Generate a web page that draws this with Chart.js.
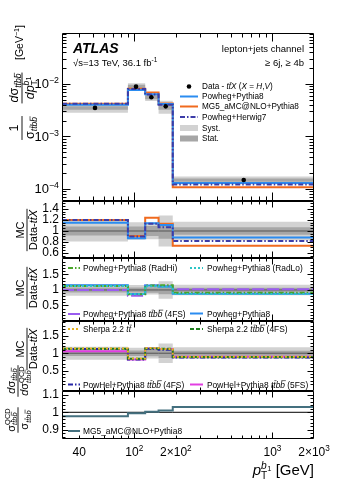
<!DOCTYPE html>
<html>
<head>
<meta charset="utf-8">
<script src="https://cdn.jsdelivr.net/npm/chart.js@4.4.1/dist/chart.umd.min.js"></script>
<style>
  html, body { margin: 0; padding: 0; background: #fff; }
  #wrap { position: relative; width: 346px; height: 480px; overflow: hidden; background: #fff; }
  #wrap canvas { position: absolute; left: 0; top: 0; }
</style>
</head>
<body>
<div id="wrap"></div>
<script>
// --- values ---
const binEdges = [30, 90, 120, 150, 190, 2000];
const dataX = [52, 103, 133, 169, 620];
const dataVal = [3.5e-3, 8.9e-3, 5.6e-3, 3.75e-3, 1.48e-4];
const systRel = [0.19, 0.16, 0.15, 0.28, 0.17];
const statRel = [0.08, 0.08, 0.09, 0.14, 0.07];

// top panel, normalised cross-sections
const powPy8 = [4.0e-3, 7.7e-3, 6.4e-3, 4.15e-3, 1.30e-4];
const mg5Py8 = [4.2e-3, 8.1e-3, 6.9e-3, 4.25e-3, 1.08e-4];
const powH7 = [4.2e-3, 8.0e-3, 6.3e-3, 4.0e-3, 1.21e-4];

// ratio panel 1
const rPowPy8 = [1.15, 0.87, 1.14, 1.11, 0.88];
const rMg5 = [1.20, 0.91, 1.24, 1.13, 0.73];
const rPowH7 = [1.20, 0.90, 1.13, 1.07, 0.82];
// ratio panel 2
const rRadHi = [1.13, 0.86, 1.14, 1.15, 0.91];
const rRadLo = [1.13, 0.87, 1.12, 1.10, 0.87];
const rPowTtbb4 = [1.00, 0.81, 1.14, 1.12, 1.02];
// ratio panel 3
const rSherpaTt = [1.14, 0.85, 1.15, 1.12, 0.90];
const rSherpaTtbb = [1.13, 0.84, 1.14, 1.13, 0.89];
const rPowHel4 = [1.12, 0.82, 1.13, 1.10, 0.88];
const rPowHel5 = [1.06, 0.82, 1.14, 1.12, 0.90];
// bottom panel, QCD-only over full
const rQcd = [0.978, 0.995, 1.003, 1.01, 1.03];
const unity = [1, 1, 1, 1, 1];

// --- axis ticks ---
const xTickVals = [40, 100, 200, 1000, 2000];
const xTickLabels = [[['40', '']], [['10', ''], ['2', '^']], [['2×10', ''], ['2', '^']],
  [['10', ''], ['3', '^']], [['2×10', ''], ['3', '^']]];
const xMajorTicks = [100, 1000];
const xMinorTicks = [40, 50, 60, 70, 80, 90, 200, 300, 400, 500, 600, 700, 800, 900];
const topTickVals = [1e-4, 1e-3, 1e-2];
const topTickLabels = [[['10', ''], ['−4', '^']], [['10', ''], ['−3', '^']], [['10', ''], ['−2', '^']]];

const FONT = "'Liberation Sans', Arial, Helvetica, sans-serif";
Chart.defaults.font.family = FONT;
Chart.defaults.color = '#000';

const wrap = document.getElementById('wrap');

function steps(a, b, s) {
  const r = [];
  for (let v = a; v <= b + 1e-9; v += s) r.push(+v.toFixed(4));
  return r;
}
function logMinors(d0, d1) {
  const r = [];
  for (let d = d0; d <= d1; d++) for (let k = 2; k <= 9; k++) r.push(k * Math.pow(10, d));
  return r;
}

// --- rich text helpers (flags: i italic, b bold, ^ sup, _ sub, s sub-of-sup, k stack, o overline) ---
function partFont(f, size) {
  let s = size;
  if (f.includes('^') || f.includes('_')) s = size * 0.68;
  if (f.includes('s')) s = size * 0.5;
  return { font: (f.includes('i') ? 'italic ' : '') + (f.includes('b') ? 'bold ' : '') + s.toFixed(1) + 'px ' + FONT, s };
}
function partDy(f, size) {
  if (f.includes('^')) return -size * 0.42;
  if (f.includes('_')) return size * 0.25;
  if (f.includes('s')) return -size * 0.27;
  return 0;
}
function layoutParts(ctx, parts, size) {
  let x = 0, kx = null, kw = 0;
  const items = [];
  for (const [t, f] of parts) {
    const pf = partFont(f, size);
    ctx.font = pf.font;
    const w = ctx.measureText(t).width;
    items.push({ t, f, x, w, font: pf.font, s: pf.s, dy: partDy(f, size) });
    if (f.includes('k')) { kx = x; kw = w; }
    else if (kx !== null) { x = kx + Math.max(kw, w); kx = null; }
    else x += w;
  }
  if (kx !== null) x = kx + kw;
  return { items, width: x };
}
function drawParts(ctx, parts, x, y, size, align) {
  const L = layoutParts(ctx, parts, size);
  const x0 = align === 'right' ? x - L.width : align === 'center' ? x - L.width / 2 : x;
  ctx.textAlign = 'left';
  ctx.textBaseline = 'alphabetic';
  for (const it of L.items) {
    ctx.font = it.font;
    ctx.fillText(it.t, x0 + it.x, y + it.dy);
    if (it.f.includes('o')) {
      ctx.lineWidth = Math.max(0.6, it.s * 0.07);
      for (let j = 1; j < it.t.length; j += 2) {
        const a = ctx.measureText(it.t.slice(0, j)).width;
        const b = ctx.measureText(it.t.slice(0, j + 1)).width;
        const yy = y + it.dy - it.s * 0.82;
        ctx.beginPath();
        ctx.moveTo(x0 + it.x + a + it.s * 0.12, yy);
        ctx.lineTo(x0 + it.x + b + it.s * 0.1, yy);
        ctx.stroke();
      }
    }
  }
  return L.width;
}
function frac(ctx, num, den, u, size) {
  const w = Math.max(layoutParts(ctx, num, size).width, layoutParts(ctx, den, size).width) + 2;
  drawParts(ctx, num, u, -size * 0.3, size, 'center');
  drawParts(ctx, den, u, size * 0.95, size, 'center');
  ctx.lineWidth = 0.9;
  ctx.beginPath();
  ctx.moveTo(u - w / 2, 0);
  ctx.lineTo(u + w / 2, 0);
  ctx.stroke();
}
function vtext(ctx, x, y, fn) {
  ctx.save();
  ctx.translate(x, y);
  ctx.rotate(-Math.PI / 2);
  ctx.fillStyle = '#000';
  ctx.strokeStyle = '#000';
  fn();
  ctx.restore();
}

const TT = f => ['tt', 'io' + f];
const TTBB = f => ['ttbb', 'io' + f];

function legendSym(ctx, it, x0, x1, y) {
  ctx.save();
  if (it.kind === 'dot') {
    ctx.fillStyle = '#000';
    ctx.beginPath(); ctx.arc((x0 + x1) / 2, y, 2.3, 0, Math.PI * 2); ctx.fill();
  } else if (it.kind === 'box') {
    ctx.fillStyle = it.color;
    ctx.fillRect(x0, y - 3, x1 - x0, 6);
  } else {
    ctx.strokeStyle = it.color;
    ctx.lineWidth = it.width || 2;
    ctx.setLineDash(it.dash || []);
    ctx.beginPath(); ctx.moveTo(x0, y); ctx.lineTo(x1, y); ctx.stroke();
  }
  ctx.restore();
}
function legendRow(ctx, it, x0, x1, tx, y, size) {
  legendSym(ctx, it, x0, x1, y);
  ctx.fillStyle = '#000';
  ctx.strokeStyle = '#000';
  drawParts(ctx, it.label, tx, y + size * 0.36, size, 'left');
}

// --- styles ---
const C = {
  blue: '#2b8cf0', orange: '#f06a1e', h7: '#3c3ca8',
  radHi: '#4aa52a', radLo: '#2cc5c5', ttbb4: '#9a5cf0',
  shTt: '#e6b422', shTtbb: '#1f7f1f', ph4: '#2626a6', ph5: '#e23ee2',
  qcd: '#44707f', syst: '#d2d2d2', stat: '#a6a6a6'
};
const DASHDOT = [5, 2, 1.5, 2];

// --- dataset builders ---
function histPts(vals) {
  const pts = vals.map((v, i) => ({ x: binEdges[i], y: v }));
  pts.push({ x: binEdges[binEdges.length - 1], y: vals[vals.length - 1] });
  return pts;
}
function histLine(vals, color, dash, order, width) {
  return { data: histPts(vals), borderColor: color, borderDash: dash || [], borderWidth: width || 2,
    stepped: true, pointRadius: 0, fill: false, order };
}
function band(center, rel, color, order) {
  const hi = center.map((c, i) => c * (1 + rel[i]));
  const lo = center.map((c, i) => c * (1 - rel[i]));
  return [
    { data: histPts(hi), borderWidth: 0, borderColor: 'rgba(0,0,0,0)', stepped: true, pointRadius: 0, fill: false, order },
    { data: histPts(lo), borderWidth: 0, borderColor: 'rgba(0,0,0,0)', stepped: true, pointRadius: 0, fill: '-1', backgroundColor: color, order }
  ];
}
function unityLine(color) {
  return { data: histPts(unity), borderColor: color, borderWidth: 1, stepped: true, pointRadius: 0, fill: false, order: 15 };
}

function deco(cfg) {
  return {
    id: 'deco',
    afterDraw(chart) {
      const ctx = chart.ctx, a = chart.chartArea, xs = chart.scales.x, ys = chart.scales.y;
      ctx.save();
      ctx.strokeStyle = '#000';
      ctx.lineWidth = 1;
      const L = Math.round(a.left) + 0.5, R = Math.round(a.right) - 0.5;
      const T = Math.round(a.top) + 0.5, B = Math.round(a.bottom) - 0.5;
      ctx.beginPath();
      ctx.rect(L, T, R - L, B - T);
      const xt = (v, len) => {
        const px = Math.round(xs.getPixelForValue(v)) + 0.5;
        ctx.moveTo(px, B); ctx.lineTo(px, B - len);
        ctx.moveTo(px, T); ctx.lineTo(px, T + len);
      };
      const yt = (v, len) => {
        if (v <= ys.min || v >= ys.max) return;
        const py = Math.round(ys.getPixelForValue(v)) + 0.5;
        ctx.moveTo(L, py); ctx.lineTo(L + len, py);
        ctx.moveTo(R, py); ctx.lineTo(R - len, py);
      };
      xMajorTicks.forEach(v => xt(v, cfg.tk[0]));
      xMinorTicks.forEach(v => xt(v, cfg.tk[1]));
      cfg.yTicks.forEach(v => yt(v, cfg.tk[2]));
      cfg.yMinor.forEach(v => yt(v, cfg.tk[3]));
      ctx.stroke();
      ctx.fillStyle = '#000';
      if (cfg.yRich) {
        cfg.yTicks.forEach((v, i) => drawParts(ctx, cfg.yRich[i], a.left - 3, ys.getPixelForValue(v) + 4.5, 13, 'right'));
      }
      if (cfg.last) {
        xTickVals.forEach((v, i) => drawParts(ctx, xTickLabels[i], xs.getPixelForValue(v), 456, 12, 'center'));
      }
      if (cfg.draw) cfg.draw(ctx, chart);
      ctx.restore();
    }
  };
}

function makePanel(cfg) {
  const cv = document.createElement('canvas');
  cv.width = 346; cv.height = 480;
  cv.style.width = '346px'; cv.style.height = '480px';
  wrap.appendChild(cv);
  const last = !!cfg.last;
  const xAxisH = last ? 480 - cfg.bottom : 0;
  return new Chart(cv, {
    type: 'line',
    data: { datasets: cfg.datasets },
    options: {
      responsive: false,
      animation: false,
      events: [],
      layout: { padding: { left: 0, right: 32, top: cfg.top, bottom: last ? 0 : 480 - cfg.bottom } },
      plugins: { legend: { display: false }, tooltip: { enabled: false } },
      scales: {
        x: {
          type: 'logarithmic', min: 30, max: 2000, display: last,
          grid: { display: false, drawTicks: false }, border: { display: false },
          ticks: { display: false },
          afterBuildTicks: s => { s.ticks = xTickVals.map(v => ({ value: v })); },
          afterFit: s => { s.height = xAxisH; }
        },
        y: {
          type: cfg.yType, min: cfg.yMin, max: cfg.yMax,
          grid: { display: false, drawTicks: false }, border: { display: false },
          ticks: { display: !cfg.yRich, autoSkip: false, padding: 3, color: '#000', font: { size: 12 },
            callback: (v, i) => cfg.yLabels ? cfg.yLabels[i] : '' },
          afterBuildTicks: s => { s.ticks = cfg.yTicks.map(v => ({ value: v })); },
          afterFit: s => { s.width = 62; }
        }
      }
    },
    plugins: [deco(cfg)]
  });
}

// ---------- panel 1: distribution ----------
makePanel({
  top: 33, bottom: 201, yType: 'logarithmic', yMin: 5.9e-5, yMax: 0.0935,
  yTicks: topTickVals, yRich: topTickLabels,
  yMinor: logMinors(-5, -2), tk: [8, 4, 8, 4],
  datasets: [
    ...band(dataVal, systRel, C.syst, 20),
    ...band(dataVal, statRel, C.stat, 19),
    histLine(mg5Py8, C.orange, [], 5),
    histLine(powPy8, C.blue, [], 4),
    histLine(powH7, C.h7, DASHDOT, 3),
    { data: dataX.map((x, i) => ({ x, y: dataVal[i] })), showLine: false, pointRadius: 2.3,
      pointBackgroundColor: '#000', pointBorderWidth: 0, order: 0 }
  ],
  draw(ctx) {
    drawParts(ctx, [['ATLAS', 'ib']], 73, 53, 14, 'left');
    drawParts(ctx, [['√s=13 TeV, 36.1 fb', ''], ['-1', '^']], 73, 66, 9.5, 'left');
    drawParts(ctx, [['lepton+jets channel', '']], 304, 52, 9.5, 'right');
    drawParts(ctx, [['≥ 6j, ≥ 4b', '']], 304, 66, 9.5, 'right');
    const items = [
      { kind: 'dot', label: [['Data - ', ''], TT(''), ['X', 'i'], [' (', ''], ['X', 'i'], [' = ', ''], ['H', 'i'], [',', ''], ['V', 'i'], [')', '']] },
      { kind: 'line', color: C.blue, label: [['Powheg+Pythia8', '']] },
      { kind: 'line', color: C.orange, label: [['MG5_aMC@NLO+Pythia8', '']] },
      { kind: 'line', color: C.h7, dash: DASHDOT, label: [['Powheg+Herwig7', '']] },
      { kind: 'box', color: C.syst, label: [['Syst.', '']] },
      { kind: 'box', color: C.stat, label: [['Stat.', '']] }
    ];
    const rows = [86.5, 96.5, 106.5, 117, 128, 138.5];
    items.forEach((it, i) => legendRow(ctx, it, 180, 198, 202, rows[i], 8.2));
    vtext(ctx, 22, 201, () => {
      frac(ctx, [['1', '']], [['σ', ''], TTBB('_')], 73, 12.5);
      frac(ctx, [['d', 'i'], ['σ', ''], TTBB('_')], [['dp', 'i'], ['T', '_k'], ['b', 'i^'], ['1', 's']], 113, 12.5);
      drawParts(ctx, [['[GeV', ''], ['−1', '^'], [']', '']], 141, 1, 10.5, 'left');
    });
  }
});

// ---------- panel 2: MC / data ----------
function ratioTitle(ctx, yc) {
  vtext(ctx, 27, yc, () => {
    frac(ctx, [['MC', '']], [['Data-', ''], TT(''), ['X', 'i']], 0, 11);
  });
}
makePanel({
  top: 201, bottom: 258, yType: 'linear', yMin: 0.509, yMax: 1.545,
  yTicks: [0.6, 0.8, 1, 1.2, 1.4], yLabels: ['0.6', '0.8', '1', '1.2', '1.4'],
  yMinor: steps(0.55, 1.5, 0.05), tk: [6, 3, 6, 3],
  datasets: [
    ...band(unity, systRel, C.syst, 20),
    ...band(unity, statRel, C.stat, 19),
    unityLine('#555'),
    histLine(rMg5, C.orange, [], 5),
    histLine(rPowPy8, C.blue, [], 4),
    histLine(rPowH7, C.h7, DASHDOT, 3)
  ],
  draw(ctx) { ratioTitle(ctx, 230); }
});

// ---------- panel 3: Powheg variations ----------
makePanel({
  top: 258, bottom: 321, yType: 'linear', yMin: 0.0, yMax: 2.03,
  yTicks: [0.5, 1, 1.5], yLabels: ['0.5', '1', '1.5'],
  yMinor: steps(0.1, 1.9, 0.1), tk: [6, 3, 6, 3],
  datasets: [
    ...band(unity, systRel, C.syst, 20),
    ...band(unity, statRel, C.stat, 19),
    unityLine('#555'),
    histLine(rPowTtbb4, C.ttbb4, [12, 3], 6),
    histLine(rPowPy8, C.blue, [], 5),
    histLine(rRadHi, C.radHi, DASHDOT, 4),
    histLine(rRadLo, C.radLo, [2, 2], 3)
  ],
  draw(ctx) {
    ratioTitle(ctx, 288);
    legendRow(ctx, { color: C.radHi, dash: DASHDOT, label: [['Powheg+Pythia8 (RadHi)', '']] }, 68, 80, 83, 268, 8.4);
    legendRow(ctx, { color: C.radLo, dash: [2, 2], label: [['Powheg+Pythia8 (RadLo)', '']] }, 190, 203, 207, 268, 8.4);
    legendRow(ctx, { color: C.ttbb4, label: [['Powheg+Pythia8 ', ''], TTBB(''), [' (4FS)', '']] }, 68, 80, 83, 314, 8.4);
    legendRow(ctx, { color: C.blue, label: [['Powheg+Pythia8', '']] }, 190, 203, 207, 313.5, 8.4);
  }
});

// ---------- panel 4: Sherpa / PowHel ----------
makePanel({
  top: 321, bottom: 391, yType: 'linear', yMin: -0.09, yMax: 1.93,
  yTicks: [0.5, 1, 1.5], yLabels: ['0.5', '1', '1.5'],
  yMinor: steps(0.1, 1.9, 0.1), tk: [6, 3, 6, 3],
  datasets: [
    ...band(unity, systRel, C.syst, 20),
    ...band(unity, statRel, C.stat, 19),
    unityLine('#555'),
    histLine(rPowHel5, C.ph5, [], 6),
    histLine(rPowHel4, C.ph4, DASHDOT, 5),
    histLine(rSherpaTtbb, C.shTtbb, [4, 2], 4),
    histLine(rSherpaTt, C.shTt, [2, 2], 3)
  ],
  draw(ctx) {
    ratioTitle(ctx, 349);
    legendRow(ctx, { color: C.shTt, dash: [2, 2], label: [['Sherpa 2.2 ', ''], TT('')] }, 68, 80, 83, 329, 8.4);
    legendRow(ctx, { color: C.shTtbb, dash: [4, 2], label: [['Sherpa 2.2 ', ''], TTBB(''), [' (4FS)', '']] }, 190, 203, 207, 329, 8.4);
    legendRow(ctx, { color: C.ph4, dash: DASHDOT, label: [['PowHel+Pythia8 ', ''], TTBB(''), [' (4FS)', '']] }, 68, 80, 83, 384.5, 8.4);
    legendRow(ctx, { color: C.ph5, label: [['PowHel+Pythia8 ', ''], TTBB(''), [' (5FS)', '']] }, 190, 203, 207, 384.5, 8.4);
  }
});

// ---------- panel 5: QCD / full ----------
makePanel({
  top: 391, bottom: 439, last: true, yType: 'linear', yMin: 0.847, yMax: 1.122,
  yTicks: [0.9, 1, 1.1], yLabels: ['0.9', '1', '1.1'],
  yMinor: steps(0.86, 1.12, 0.02), tk: [6, 3, 6, 3],
  datasets: [
    unityLine('#000'),
    histLine(rQcd, C.qcd, [], 3)
  ],
  draw(ctx) {
    legendRow(ctx, { color: C.qcd, label: [['MG5_aMC@NLO+Pythia8', '']] }, 68, 80, 83, 431, 8.4);
    vtext(ctx, 18, 439, () => {
      frac(ctx, [['σ', ''], ['QCD', '^k'], TTBB('_')], [['σ', ''], TTBB('_')], 19, 11);
      frac(ctx, [['d', 'i'], ['σ', ''], TTBB('_')], [['d', 'i'], ['σ', ''], ['QCD', '^k'], TTBB('_')], 58, 11);
    });
    drawParts(ctx, [['p', 'i'], ['T', '_k'], ['b', 'i^'], ['1', 's'], [' [GeV]', '']], 314, 475, 15, 'right');
  }
});
</script>
</body>
</html>
